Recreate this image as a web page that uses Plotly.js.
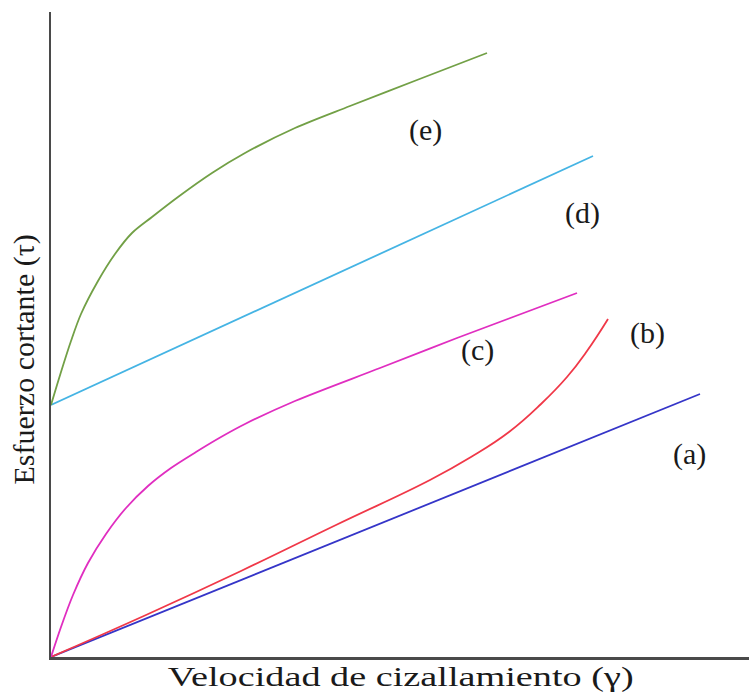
<!DOCTYPE html>
<html>
<head>
<meta charset="utf-8">
<script src="https://cdn.plot.ly/plotly-3.0.1.min.js"></script>
<style>html,body{margin:0;padding:0;background:#fff;}#chart{width:749px;height:692px;}</style>
</head>
<body>
<div id="chart"></div>
<script>
// Values (arbitrary units: shear rate vs shear stress)
const aX = [0, 649];
const aY = [0, 263];
const bX = [0, 95, 190, 285, 379, 420, 458, 490, 516, 536, 557];
const bY = [0, 42, 86, 132, 177, 200, 225, 253, 280, 306, 338];
const cX = [0, 10, 22, 37, 55, 75, 97, 120, 145, 170, 194, 244, 329, 406, 526];
const cY = [0, 30, 62, 94, 123, 149, 171, 189, 205, 220, 233, 256, 289, 319, 364];
const dX = [0, 542];
const dY = [252, 501];
const eX = [0, 10, 20, 30, 47, 64, 81, 101, 127, 161, 194, 244, 299, 366, 436];
const eY = [252, 285, 316, 343, 376, 403, 424, 440, 460, 484, 504, 529, 551, 577, 604];
const curveLabels = ['(a)', '(b)', '(c)', '(d)', '(e)'];
const labelX = [638, 596, 426, 531, 374];
const labelY = [203, 324, 307, 444, 527];
const xTitle = 'Velocidad de cizallamiento (γ)';
const yTitle = 'Esfuerzo cortante (τ)';

const serif = 'Liberation Serif, Times New Roman, serif';
function tr(x, y, color, sm) {
  return {x: x, y: y, mode: 'lines', type: 'scatter', hoverinfo: 'skip',
          line: {color: color, width: 1.8, shape: 'spline', smoothing: sm}};
}
const data = [
  tr(aX, aY, '#3535c8', 0.9),
  tr(bX, bY, '#f03848', 1.3),
  tr(cX, cY, '#e02ec0', 0.9),
  tr(dX, dY, '#45b4e4', 0.9),
  tr(eX, eY, '#72a046', 0.9)
];
const annotations = curveLabels.map((t, i) => ({
  x: labelX[i], y: labelY[i], xref: 'x', yref: 'y', text: t, showarrow: false,
  font: {family: serif, size: 30, color: '#1a1a1a'}, xanchor: 'center', yanchor: 'middle'
}));
annotations.push({x: 0.5, y: -0.031, xref: 'paper', yref: 'paper', text: xTitle, showarrow: false,
  font: {family: serif, size: 28, color: '#1a1a1a'}, xanchor: 'center', yanchor: 'middle'});
annotations.push({x: -0.038, y: 0.462, xref: 'paper', yref: 'paper', text: yTitle, showarrow: false,
  textangle: -90, font: {family: serif, size: 30, color: '#1a1a1a'}, xanchor: 'center', yanchor: 'middle'});

const layout = {
  width: 749, height: 692,
  margin: {l: 51, r: 0, t: 12, b: 35},
  paper_bgcolor: '#fff', plot_bgcolor: '#fff',
  showlegend: false,
  xaxis: {range: [0, 698], showline: true, linecolor: '#4a4a4a', linewidth: 2.5, showgrid: false,
          zeroline: false, showticklabels: false, ticks: ''},
  yaxis: {range: [0, 645], showline: true, linecolor: '#4a4a4a', linewidth: 2.5, showgrid: false,
          zeroline: false, showticklabels: false, ticks: ''},
  annotations: annotations
};
Plotly.newPlot('chart', data, layout, {displayModeBar: false, staticPlot: true}).then(gd => {
  // the reference's horizontal title is drawn wider than the font's natural width
  gd.querySelectorAll('text.annotation-text').forEach(t => {
    if (t.textContent === xTitle) {
      t.setAttribute('textLength', '466');
      t.setAttribute('lengthAdjust', 'spacingAndGlyphs');
    }
  });
});
</script>
</body>
</html>
